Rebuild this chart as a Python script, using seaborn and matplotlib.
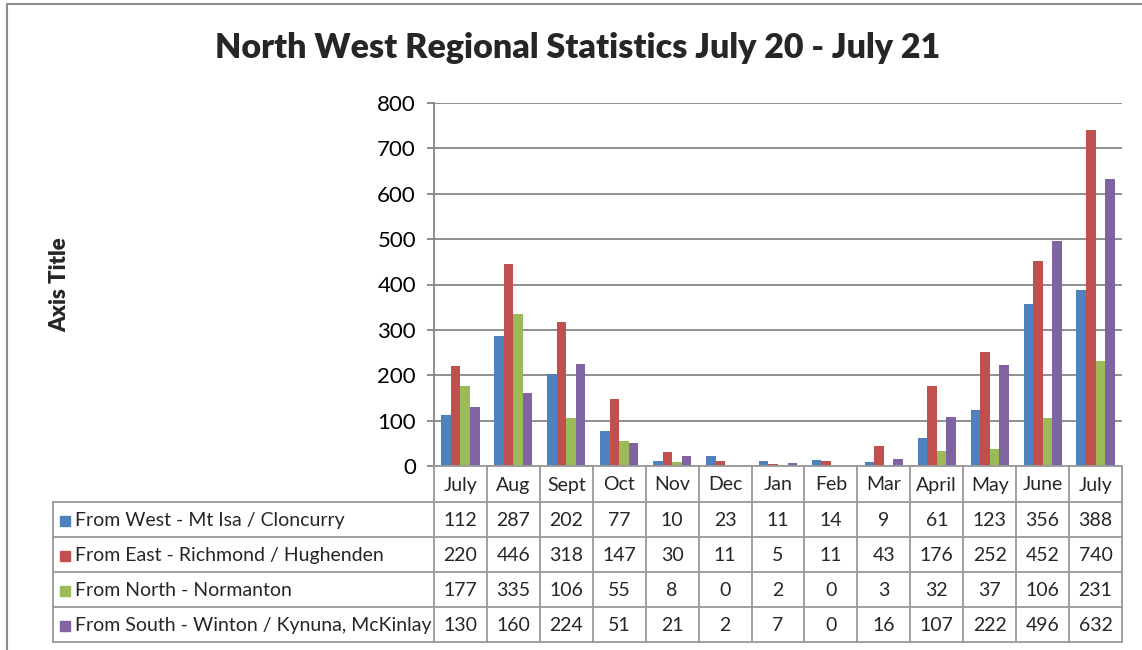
import matplotlib
matplotlib.use("Agg")
import matplotlib.pyplot as plt
import seaborn as sns
import pandas as pd

months = ["July", "Aug", "Sept", "Oct", "Nov", "Dec", "Jan", "Feb", "Mar", "April", "May", "June", "July"]
series = ["From West - Mt Isa / Cloncurry", "From East - Richmond / Hughenden",
          "From North - Normanton", "From South - Winton / Kynuna, McKinlay"]
west = [112, 287, 202, 77, 10, 23, 11, 14, 9, 61, 123, 356, 388]
east = [220, 446, 318, 147, 30, 11, 5, 11, 43, 176, 252, 452, 740]
north = [177, 335, 106, 55, 8, 0, 2, 0, 3, 32, 37, 106, 231]
south = [130, 160, 224, 51, 21, 2, 7, 0, 16, 107, 222, 496, 632]
colors = ["#4F81BD", "#C0504D", "#9BBB59", "#8064A2"]

rows = []
for name, vals in zip(series, [west, east, north, south]):
    for i, v in enumerate(vals):
        rows.append({"slot": i, "series": name, "value": v})
df = pd.DataFrame(rows)

sns.set_style("white")
plt.rcParams["font.family"] = ["Lato", "DejaVu Sans"]

W, H = 1142, 650
fig = plt.figure(figsize=(W / 100, H / 100), dpi=100)

x0, x1, ytop, ybot = 434, 1122, 103, 466
ax = fig.add_axes([x0 / W, 1 - ybot / H, (x1 - x0) / W, (ybot - ytop) / H])
sns.barplot(data=df, x="slot", y="value", hue="series", palette=colors,
            width=0.72, gap=0, ax=ax, legend=False, saturation=1, edgecolor="none")
ax.set_xlim(-0.5, 12.5)
ax.set_ylim(0, 800)
ax.set_yticks(range(0, 801, 100))
ax.yaxis.grid(True, color="#868686", linewidth=1.3)
ax.set_axisbelow(True)
ax.set_xticks([])
ax.set_xlabel("")
ax.set_ylabel("")
for s in ["top", "right", "bottom"]:
    ax.spines[s].set_visible(False)
ax.spines["left"].set_color("#868686")
ax.spines["left"].set_linewidth(1.3)
ax.tick_params(axis="y", left=True, length=5, width=1.3, color="#868686",
               labelsize=16, pad=8, labelcolor="black")

# outer chart frame
ov = fig.add_axes([0, 0, 1, 1], zorder=-1)
ov.set_xlim(0, W)
ov.set_ylim(H, 0)
ov.axis("off")
ov.plot([7, 7], [4, H], color="#8c8c8c", lw=1.5)
ov.plot([7, W], [4, 4], color="#8c8c8c", lw=1.5)

# data table under the plot
tb = fig.add_axes([0, 0, 1, 1])
tb.set_xlim(0, W)
tb.set_ylim(H, 0)
tb.axis("off")
colw = (x1 - x0) / len(months)
row_y = [466, 502, 537, 572, 607, 642]
lc = "#999999"
tb.plot([x0, x1], [row_y[0], row_y[0]], color=lc, lw=1.3)
for y in row_y[1:]:
    tb.plot([53, x1], [y, y], color=lc, lw=1.3)
tb.plot([53, 53], [row_y[1], row_y[-1]], color=lc, lw=1.3)
for i in range(len(months) + 1):
    tb.plot([x0 + i * colw] * 2, [row_y[0], row_y[-1]], color=lc, lw=1.3)
for i, m in enumerate(months):
    tb.text(x0 + (i + 0.5) * colw, (row_y[0] + row_y[1]) / 2 + 1, m,
            ha="center", va="center", fontsize=14)
for r, (name, vals, c) in enumerate(zip(series, [west, east, north, south], colors)):
    yc = (row_y[r + 1] + row_y[r + 2]) / 2 + 1
    tb.add_patch(plt.Rectangle((60, yc - 5), 10, 10, color=c))
    tb.text(75, yc, name, ha="left", va="center", fontsize=14)
    for i, v in enumerate(vals):
        tb.text(x0 + (i + 0.5) * colw, yc, str(v), ha="center", va="center", fontsize=14)

fig.text(578 / W, 1 - 48 / H, "North West Regional Statistics July 20 - July 21",
         ha="center", va="center", fontsize=24.5, fontweight="heavy")
fig.text(60 / W, 1 - 285 / H, "Axis Title", rotation=90, ha="center", va="center",
         fontsize=16, fontweight="heavy")

fig.savefig("out.png", dpi=100)
